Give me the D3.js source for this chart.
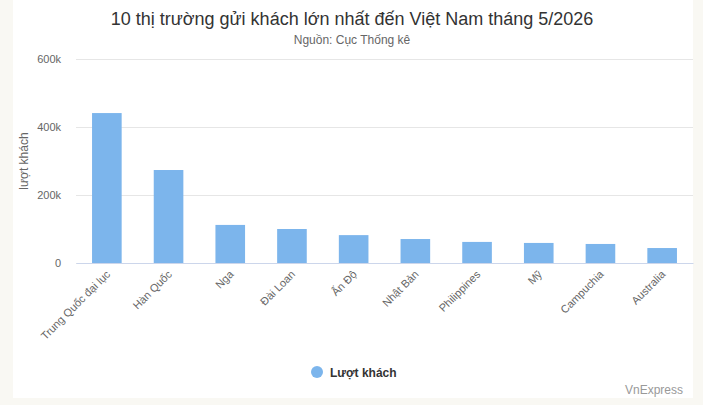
<!DOCTYPE html>
<html><head><meta charset="utf-8">
<script src="https://cdn.jsdelivr.net/npm/d3@7"></script>
<style>
html,body{margin:0;padding:0;background:#f9f8f3;}
svg{display:block;font-family:"Liberation Sans",Arial,Helvetica,sans-serif;}
</style></head>
<body>
<script>
const categories = ["Trung Quốc đại lục","Hàn Quốc","Nga","Đài Loan","Ấn Độ","Nhật Bản","Philippines","Mỹ","Campuchia","Australia"];
const visitors = [441000, 273500, 112000, 100000, 82000, 70500, 62000, 59000, 56000, 44000];
const yTicks = [0, 200000, 400000, 600000];
const yTickLabels = ["0","200k","400k","600k"];
const seriesName = "Lượt khách";
const titleText = "10 thị trường gửi khách lớn nhất đến Việt Nam tháng 5/2026";
const subtitleText = "Nguồn: Cục Thống kê";
const yAxisTitle = "lượt khách";
const creditText = "VnExpress";

const W = 703, H = 405;
const svg = d3.select("body").append("svg").attr("width", W).attr("height", H);
svg.append("rect").attr("x",0).attr("y",0).attr("width",W).attr("height",H).attr("fill","#f9f8f3");
svg.append("rect").attr("x",13).attr("y",0).attr("width",680).attr("height",398).attr("fill","#ffffff");

const plot = {left:76, right:693, top:59, bottom:263};
const x = d3.scaleBand().domain(categories).range([plot.left, plot.right]).paddingInner(0).paddingOuter(0);
const y = d3.scaleLinear().domain([0,600000]).range([plot.bottom, plot.top]);

svg.append("text").attr("x",352).attr("y",25).attr("text-anchor","middle")
  .attr("font-size","18px").attr("fill","#333333").text(titleText);
svg.append("text").attr("x",352).attr("y",44).attr("text-anchor","middle")
  .attr("font-size","12px").attr("fill","#666666").text(subtitleText);

// gridlines
const yAxis = d3.axisLeft(y).tickValues(yTicks).tickSize(-(plot.right-plot.left))
  .tickFormat((d,i)=>yTickLabels[i]).tickPadding(14);
const gy = svg.append("g").attr("transform",`translate(${plot.left},0)`).call(yAxis);
gy.select(".domain").remove();
gy.selectAll(".tick line").attr("stroke","#e6e6e6");
gy.selectAll(".tick text").attr("fill","#666666").attr("font-size","11px").attr("x",-15);

svg.append("text").attr("transform",`translate(28,${(plot.top+plot.bottom)/2}) rotate(-90)`)
  .attr("text-anchor","middle").attr("font-size","12px").attr("fill","#666666").text(yAxisTitle);

// bars
const band = x.bandwidth();
const bw = band*0.6*0.8;
svg.append("g").selectAll("rect").data(visitors).join("rect")
  .attr("x",(d,i)=>x(categories[i]) + band/2 - bw/2)
  .attr("y",d=>y(d)).attr("width",bw).attr("height",d=>plot.bottom - y(d))
  .attr("fill","#7cb5ec");

// x axis
const xAxis = d3.axisBottom(x).tickSize(0).tickPadding(0);
const gx = svg.append("g").attr("transform",`translate(0,${plot.bottom})`).call(xAxis);
gx.select(".domain").attr("stroke","#ccd6eb");
gx.selectAll(".tick text").attr("fill","#666666").attr("font-size","11px")
  .attr("text-anchor","end").attr("dy",0).attr("y",0)
  .attr("transform","translate(4,12) rotate(-45)");

// legend
svg.append("circle").attr("cx",317).attr("cy",372).attr("r",6).attr("fill","#7cb5ec");
svg.append("text").attr("x",330).attr("y",376.5).attr("font-size","12px").attr("font-weight","bold")
  .attr("fill","#333333").text(seriesName);

svg.append("text").attr("x",683).attr("y",394).attr("text-anchor","end")
  .attr("font-size","12px").attr("fill","#999999").text(creditText);
</script>
</body></html>
